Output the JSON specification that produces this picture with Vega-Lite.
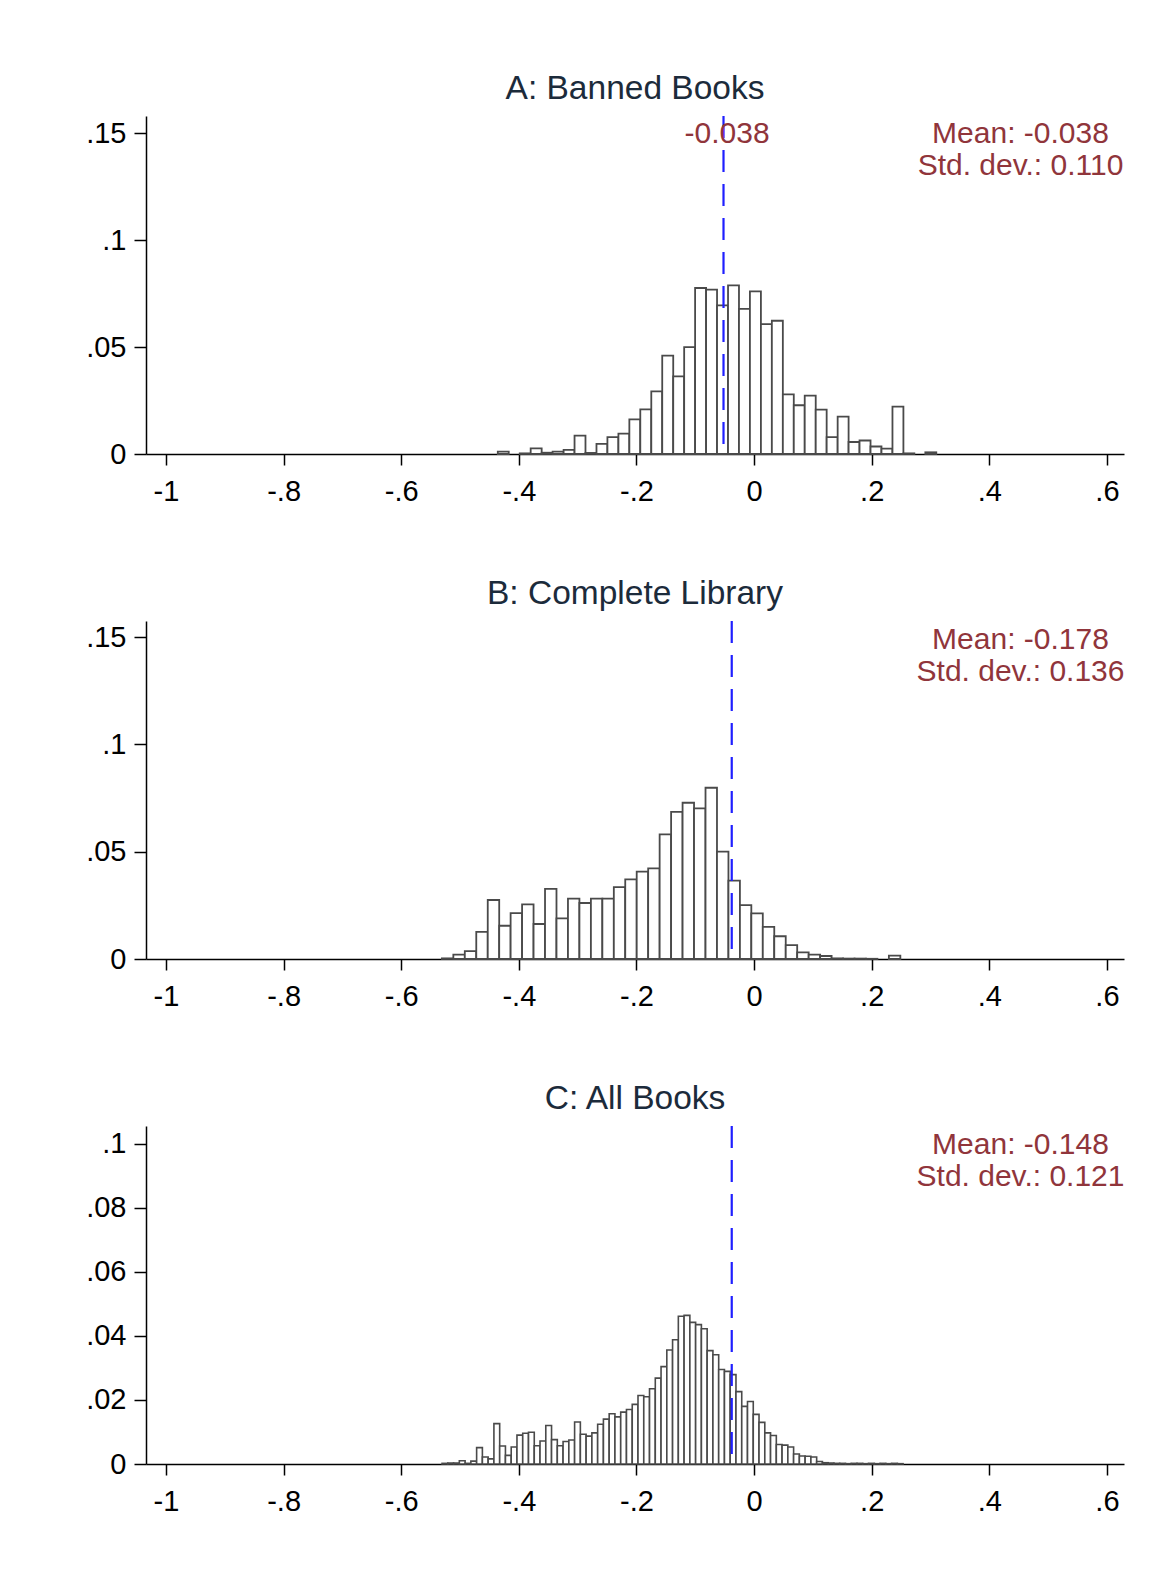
{
  "$schema": "https://vega.github.io/schema/vega-lite/v6.json",
  "padding": {"left": 85, "top": 72, "right": 5, "bottom": 5},
  "background": "white",
  "config": {
    "view": {"stroke": null},
    "font": "Liberation Sans",
    "title": {"font": "Liberation Sans", "fontSize": 33.5, "fontWeight": "normal", "color": "#1c2b3b", "anchor": "middle", "offset": 8},
    "axis": {"labelFont": "Liberation Sans", "labelFontSize": 29, "labelColor": "#000000", "domainColor": "#000000", "domainWidth": 1.5, "tickColor": "#000000", "tickWidth": 1.5, "grid": false},
    "text": {"font": "Liberation Sans"}
  },
  "datasets": {
    "a": [
      {"lo": -0.4358, "hi": -0.4172, "d": 0.0011},
      {"lo": -0.3985, "hi": -0.3799, "d": 0.0003},
      {"lo": -0.3799, "hi": -0.3612, "d": 0.0026},
      {"lo": -0.3612, "hi": -0.3426, "d": 0.0006},
      {"lo": -0.3426, "hi": -0.3239, "d": 0.0011},
      {"lo": -0.3239, "hi": -0.3053, "d": 0.0019},
      {"lo": -0.3053, "hi": -0.2867, "d": 0.0086},
      {"lo": -0.2867, "hi": -0.2680, "d": 0.0005},
      {"lo": -0.2680, "hi": -0.2494, "d": 0.0047},
      {"lo": -0.2494, "hi": -0.2307, "d": 0.0079},
      {"lo": -0.2307, "hi": -0.2121, "d": 0.0095},
      {"lo": -0.2121, "hi": -0.1935, "d": 0.0162},
      {"lo": -0.1935, "hi": -0.1748, "d": 0.0209},
      {"lo": -0.1748, "hi": -0.1562, "d": 0.0293},
      {"lo": -0.1562, "hi": -0.1375, "d": 0.0460},
      {"lo": -0.1375, "hi": -0.1189, "d": 0.0363},
      {"lo": -0.1189, "hi": -0.1003, "d": 0.0500},
      {"lo": -0.1003, "hi": -0.0816, "d": 0.0776},
      {"lo": -0.0816, "hi": -0.0630, "d": 0.0768},
      {"lo": -0.0630, "hi": -0.0443, "d": 0.0695},
      {"lo": -0.0443, "hi": -0.0257, "d": 0.0788},
      {"lo": -0.0257, "hi": -0.0071, "d": 0.0678},
      {"lo": -0.0071, "hi": 0.0116, "d": 0.0760},
      {"lo": 0.0116, "hi": 0.0302, "d": 0.0607},
      {"lo": 0.0302, "hi": 0.0489, "d": 0.0623},
      {"lo": 0.0489, "hi": 0.0675, "d": 0.0279},
      {"lo": 0.0675, "hi": 0.0861, "d": 0.0228},
      {"lo": 0.0861, "hi": 0.1048, "d": 0.0273},
      {"lo": 0.1048, "hi": 0.1234, "d": 0.0207},
      {"lo": 0.1234, "hi": 0.1421, "d": 0.0079},
      {"lo": 0.1421, "hi": 0.1607, "d": 0.0175},
      {"lo": 0.1607, "hi": 0.1793, "d": 0.0056},
      {"lo": 0.1793, "hi": 0.1980, "d": 0.0063},
      {"lo": 0.1980, "hi": 0.2166, "d": 0.0035},
      {"lo": 0.2166, "hi": 0.2353, "d": 0.0025},
      {"lo": 0.2353, "hi": 0.2539, "d": 0.0221},
      {"lo": 0.2539, "hi": 0.2725, "d": 0.0003},
      {"lo": 0.2912, "hi": 0.3098, "d": 0.0008}
    ],
    "b": [
      {"lo": -0.5309, "hi": -0.5114, "d": 0.0003},
      {"lo": -0.5114, "hi": -0.4919, "d": 0.0020},
      {"lo": -0.4919, "hi": -0.4724, "d": 0.0037},
      {"lo": -0.4724, "hi": -0.4529, "d": 0.0126},
      {"lo": -0.4529, "hi": -0.4334, "d": 0.0275},
      {"lo": -0.4334, "hi": -0.4140, "d": 0.0155},
      {"lo": -0.4140, "hi": -0.3945, "d": 0.0214},
      {"lo": -0.3945, "hi": -0.3750, "d": 0.0255},
      {"lo": -0.3750, "hi": -0.3555, "d": 0.0163},
      {"lo": -0.3555, "hi": -0.3360, "d": 0.0327},
      {"lo": -0.3360, "hi": -0.3165, "d": 0.0189},
      {"lo": -0.3165, "hi": -0.2970, "d": 0.0281},
      {"lo": -0.2970, "hi": -0.2775, "d": 0.0261},
      {"lo": -0.2775, "hi": -0.2580, "d": 0.0281},
      {"lo": -0.2580, "hi": -0.2385, "d": 0.0281},
      {"lo": -0.2385, "hi": -0.2191, "d": 0.0335},
      {"lo": -0.2191, "hi": -0.1996, "d": 0.0371},
      {"lo": -0.1996, "hi": -0.1801, "d": 0.0407},
      {"lo": -0.1801, "hi": -0.1606, "d": 0.0422},
      {"lo": -0.1606, "hi": -0.1411, "d": 0.0581},
      {"lo": -0.1411, "hi": -0.1216, "d": 0.0686},
      {"lo": -0.1216, "hi": -0.1021, "d": 0.0728},
      {"lo": -0.1021, "hi": -0.0826, "d": 0.0702},
      {"lo": -0.0826, "hi": -0.0631, "d": 0.0798},
      {"lo": -0.0631, "hi": -0.0436, "d": 0.0500},
      {"lo": -0.0436, "hi": -0.0241, "d": 0.0365},
      {"lo": -0.0241, "hi": -0.0047, "d": 0.0251},
      {"lo": -0.0047, "hi": 0.0148, "d": 0.0213},
      {"lo": 0.0148, "hi": 0.0343, "d": 0.0150},
      {"lo": 0.0343, "hi": 0.0538, "d": 0.0106},
      {"lo": 0.0538, "hi": 0.0733, "d": 0.0065},
      {"lo": 0.0733, "hi": 0.0928, "d": 0.0031},
      {"lo": 0.0928, "hi": 0.1123, "d": 0.0020},
      {"lo": 0.1123, "hi": 0.1318, "d": 0.0014},
      {"lo": 0.1318, "hi": 0.1513, "d": 0.0003},
      {"lo": 0.1513, "hi": 0.1708, "d": 0.0002},
      {"lo": 0.1708, "hi": 0.1902, "d": 0.0002},
      {"lo": 0.1902, "hi": 0.2097, "d": 0.0001},
      {"lo": 0.2292, "hi": 0.2487, "d": 0.0016}
    ],
    "c": [
      {"lo": -0.5306, "hi": -0.5208, "d": 0.0002},
      {"lo": -0.5208, "hi": -0.5110, "d": 0.0003},
      {"lo": -0.5110, "hi": -0.5012, "d": 0.0003},
      {"lo": -0.5012, "hi": -0.4914, "d": 0.0010},
      {"lo": -0.4914, "hi": -0.4816, "d": 0.0002},
      {"lo": -0.4816, "hi": -0.4718, "d": 0.0009},
      {"lo": -0.4718, "hi": -0.4620, "d": 0.0051},
      {"lo": -0.4620, "hi": -0.4522, "d": 0.0022},
      {"lo": -0.4522, "hi": -0.4424, "d": 0.0016},
      {"lo": -0.4424, "hi": -0.4326, "d": 0.0126},
      {"lo": -0.4326, "hi": -0.4228, "d": 0.0056},
      {"lo": -0.4228, "hi": -0.4130, "d": 0.0027},
      {"lo": -0.4130, "hi": -0.4032, "d": 0.0053},
      {"lo": -0.4032, "hi": -0.3934, "d": 0.0090},
      {"lo": -0.3934, "hi": -0.3836, "d": 0.0096},
      {"lo": -0.3836, "hi": -0.3738, "d": 0.0099},
      {"lo": -0.3738, "hi": -0.3640, "d": 0.0057},
      {"lo": -0.3640, "hi": -0.3542, "d": 0.0072},
      {"lo": -0.3542, "hi": -0.3444, "d": 0.0120},
      {"lo": -0.3444, "hi": -0.3346, "d": 0.0076},
      {"lo": -0.3346, "hi": -0.3248, "d": 0.0057},
      {"lo": -0.3248, "hi": -0.3150, "d": 0.0070},
      {"lo": -0.3150, "hi": -0.3052, "d": 0.0075},
      {"lo": -0.3052, "hi": -0.2954, "d": 0.0131},
      {"lo": -0.2954, "hi": -0.2856, "d": 0.0093},
      {"lo": -0.2856, "hi": -0.2758, "d": 0.0087},
      {"lo": -0.2758, "hi": -0.2660, "d": 0.0097},
      {"lo": -0.2660, "hi": -0.2562, "d": 0.0124},
      {"lo": -0.2562, "hi": -0.2464, "d": 0.0140},
      {"lo": -0.2464, "hi": -0.2366, "d": 0.0157},
      {"lo": -0.2366, "hi": -0.2268, "d": 0.0147},
      {"lo": -0.2268, "hi": -0.2170, "d": 0.0162},
      {"lo": -0.2170, "hi": -0.2072, "d": 0.0170},
      {"lo": -0.2072, "hi": -0.1974, "d": 0.0186},
      {"lo": -0.1974, "hi": -0.1876, "d": 0.0214},
      {"lo": -0.1876, "hi": -0.1778, "d": 0.0210},
      {"lo": -0.1778, "hi": -0.1680, "d": 0.0235},
      {"lo": -0.1680, "hi": -0.1582, "d": 0.0268},
      {"lo": -0.1582, "hi": -0.1484, "d": 0.0304},
      {"lo": -0.1484, "hi": -0.1386, "d": 0.0356},
      {"lo": -0.1386, "hi": -0.1288, "d": 0.0388},
      {"lo": -0.1288, "hi": -0.1190, "d": 0.0461},
      {"lo": -0.1190, "hi": -0.1092, "d": 0.0464},
      {"lo": -0.1092, "hi": -0.0994, "d": 0.0442},
      {"lo": -0.0994, "hi": -0.0896, "d": 0.0435},
      {"lo": -0.0896, "hi": -0.0798, "d": 0.0422},
      {"lo": -0.0798, "hi": -0.0700, "d": 0.0354},
      {"lo": -0.0700, "hi": -0.0602, "d": 0.0341},
      {"lo": -0.0602, "hi": -0.0504, "d": 0.0295},
      {"lo": -0.0504, "hi": -0.0406, "d": 0.0289},
      {"lo": -0.0406, "hi": -0.0308, "d": 0.0279},
      {"lo": -0.0308, "hi": -0.0210, "d": 0.0226},
      {"lo": -0.0210, "hi": -0.0112, "d": 0.0180},
      {"lo": -0.0112, "hi": -0.0014, "d": 0.0195},
      {"lo": -0.0014, "hi": 0.0084, "d": 0.0155},
      {"lo": 0.0084, "hi": 0.0182, "d": 0.0130},
      {"lo": 0.0182, "hi": 0.0280, "d": 0.0097},
      {"lo": 0.0280, "hi": 0.0378, "d": 0.0089},
      {"lo": 0.0378, "hi": 0.0476, "d": 0.0061},
      {"lo": 0.0476, "hi": 0.0574, "d": 0.0059},
      {"lo": 0.0574, "hi": 0.0672, "d": 0.0053},
      {"lo": 0.0672, "hi": 0.0770, "d": 0.0031},
      {"lo": 0.0770, "hi": 0.0868, "d": 0.0025},
      {"lo": 0.0868, "hi": 0.0966, "d": 0.0024},
      {"lo": 0.0966, "hi": 0.1064, "d": 0.0022},
      {"lo": 0.1064, "hi": 0.1162, "d": 0.0008},
      {"lo": 0.1162, "hi": 0.1260, "d": 0.0004},
      {"lo": 0.1260, "hi": 0.1358, "d": 0.0003},
      {"lo": 0.1358, "hi": 0.1456, "d": 0.0002},
      {"lo": 0.1456, "hi": 0.1554, "d": 0.0002},
      {"lo": 0.1554, "hi": 0.1652, "d": 0.0001},
      {"lo": 0.1652, "hi": 0.1750, "d": 0.0002},
      {"lo": 0.1750, "hi": 0.1848, "d": 0.0002},
      {"lo": 0.1848, "hi": 0.1946, "d": 0.0001},
      {"lo": 0.1946, "hi": 0.2044, "d": 0.0002},
      {"lo": 0.2044, "hi": 0.2142, "d": 0.0001},
      {"lo": 0.2142, "hi": 0.2240, "d": 0.0002},
      {"lo": 0.2240, "hi": 0.2338, "d": 0.0001},
      {"lo": 0.2338, "hi": 0.2436, "d": 0.0002},
      {"lo": 0.2436, "hi": 0.2534, "d": 0.0001}
    ]
  },
  "spacing": 71,
  "vconcat": [
    {
      "width": 978, "height": 338,
      "title": "A: Banned Books",
      "layer": [
        {
          "data": {"name": "a"},
          "mark": {"type": "bar", "fill": "#ffffff", "stroke": "#4a4a4a", "strokeWidth": 1.8},
          "encoding": {
            "x": {"field": "lo", "type": "quantitative", "title": null, "scale": {"domain": [-1.034, 0.629], "nice": false, "zero": false},
                  "axis": {"values": [-1, -0.8, -0.6, -0.4, -0.2, 0, 0.2, 0.4, 0.6], "format": ".1~f", "labelExpr": "replace(replace(datum.label, '\u2212', '-'), '0.', '.')", "tickSize": 11, "labelPadding": 12}},
            "x2": {"field": "hi"},
            "y": {"field": "d", "type": "quantitative", "title": null, "stack": null, "scale": {"domain": [0, 0.158], "nice": false},
                  "axis": {"values": [0, 0.05, 0.1, 0.15], "format": ".2~f", "labelExpr": "replace(datum.label, '0.', '.')", "tickSize": 12, "labelPadding": 8}},
            "y2": {"datum": 0}
          }
        },
        {
          "data": {"values": [{"mean": -0.052}]},
          "mark": {"type": "rule", "color": "#1f1fff", "strokeDash": [22, 12], "strokeWidth": 2.2},
          "encoding": {"x": {"field": "mean", "type": "quantitative", "title": null}}
        },
        {
          "data": {"values": [
            {"tx": 0.453, "ty": 0.1495, "label": "Mean: -0.038"},
            {"tx": 0.453, "ty": 0.1346, "label": "Std. dev.: 0.110"},
            {"tx": -0.046, "ty": 0.1495, "label": "-0.038"}
          ]},
          "mark": {"type": "text", "color": "#90353b", "fontSize": 30, "align": "center", "baseline": "middle"},
          "encoding": {
            "x": {"field": "tx", "type": "quantitative", "title": null},
            "y": {"field": "ty", "type": "quantitative", "title": null},
            "text": {"field": "label"}
          }
        }
      ]
    },
    {
      "width": 978, "height": 338,
      "title": "B: Complete Library",
      "layer": [
        {
          "data": {"name": "b"},
          "mark": {"type": "bar", "fill": "#ffffff", "stroke": "#4a4a4a", "strokeWidth": 1.8},
          "encoding": {
            "x": {"field": "lo", "type": "quantitative", "title": null, "scale": {"domain": [-1.034, 0.629], "nice": false, "zero": false},
                  "axis": {"values": [-1, -0.8, -0.6, -0.4, -0.2, 0, 0.2, 0.4, 0.6], "format": ".1~f", "labelExpr": "replace(replace(datum.label, '\u2212', '-'), '0.', '.')", "tickSize": 11, "labelPadding": 12}},
            "x2": {"field": "hi"},
            "y": {"field": "d", "type": "quantitative", "title": null, "stack": null, "scale": {"domain": [0, 0.1575], "nice": false},
                  "axis": {"values": [0, 0.05, 0.1, 0.15], "format": ".2~f", "labelExpr": "replace(datum.label, '0.', '.')", "tickSize": 12, "labelPadding": 8}},
            "y2": {"datum": 0}
          }
        },
        {
          "data": {"values": [{"mean": -0.038}]},
          "mark": {"type": "rule", "color": "#1f1fff", "strokeDash": [22, 12], "strokeWidth": 2.2},
          "encoding": {"x": {"field": "mean", "type": "quantitative", "title": null}}
        },
        {
          "data": {"values": [
            {"tx": 0.453, "ty": 0.1487, "label": "Mean: -0.178"},
            {"tx": 0.453, "ty": 0.1337, "label": "Std. dev.: 0.136"}
          ]},
          "mark": {"type": "text", "color": "#90353b", "fontSize": 30, "align": "center", "baseline": "middle"},
          "encoding": {
            "x": {"field": "tx", "type": "quantitative", "title": null},
            "y": {"field": "ty", "type": "quantitative", "title": null},
            "text": {"field": "label"}
          }
        }
      ]
    },
    {
      "width": 978, "height": 338,
      "title": "C: All Books",
      "layer": [
        {
          "data": {"name": "c"},
          "mark": {"type": "bar", "fill": "#ffffff", "stroke": "#4a4a4a", "strokeWidth": 1.6},
          "encoding": {
            "x": {"field": "lo", "type": "quantitative", "title": null, "scale": {"domain": [-1.034, 0.629], "nice": false, "zero": false},
                  "axis": {"values": [-1, -0.8, -0.6, -0.4, -0.2, 0, 0.2, 0.4, 0.6], "format": ".1~f", "labelExpr": "replace(replace(datum.label, '\u2212', '-'), '0.', '.')", "tickSize": 11, "labelPadding": 12}},
            "x2": {"field": "hi"},
            "y": {"field": "d", "type": "quantitative", "title": null, "stack": null, "scale": {"domain": [0, 0.1055], "nice": false},
                  "axis": {"values": [0, 0.02, 0.04, 0.06, 0.08, 0.1], "format": ".2~f", "labelExpr": "replace(datum.label, '0.', '.')", "tickSize": 12, "labelPadding": 8}},
            "y2": {"datum": 0}
          }
        },
        {
          "data": {"values": [{"mean": -0.038}]},
          "mark": {"type": "rule", "color": "#1f1fff", "strokeDash": [22, 12], "strokeWidth": 2.2},
          "encoding": {"x": {"field": "mean", "type": "quantitative", "title": null}}
        },
        {
          "data": {"values": [
            {"tx": 0.453, "ty": 0.0996, "label": "Mean: -0.148"},
            {"tx": 0.453, "ty": 0.0896, "label": "Std. dev.: 0.121"}
          ]},
          "mark": {"type": "text", "color": "#90353b", "fontSize": 30, "align": "center", "baseline": "middle"},
          "encoding": {
            "x": {"field": "tx", "type": "quantitative", "title": null},
            "y": {"field": "ty", "type": "quantitative", "title": null},
            "text": {"field": "label"}
          }
        }
      ]
    }
  ]
}
